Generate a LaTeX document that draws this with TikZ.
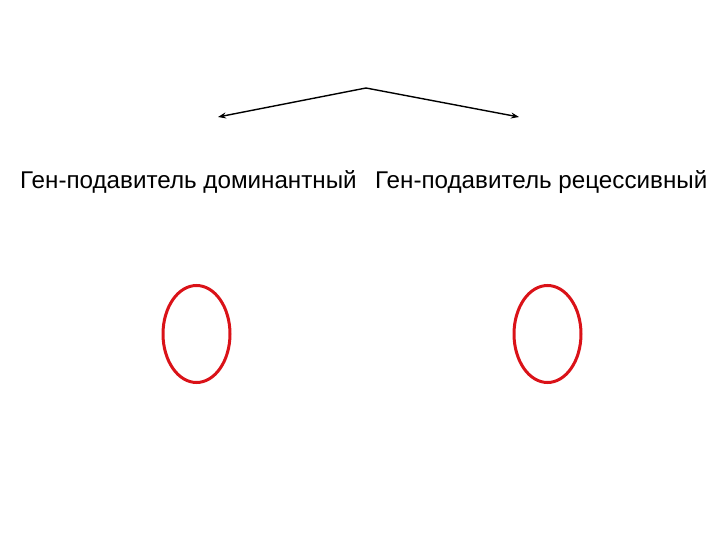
\documentclass[tikz,border=0pt]{standalone}
\usepackage{fontspec}
\setmainfont{Liberation Sans}
\usetikzlibrary{shapes.geometric,arrows.meta}
\definecolor{ovalred}{RGB}{218,18,24}
\tikzset{
  lbl/.style={anchor=base west,inner sep=0pt,font=\fontsize{24.2}{29}\selectfont},
  oval/.style={ellipse,draw=ovalred,line width=3pt,minimum width=67pt,minimum height=97pt,inner sep=0pt},
  arr/.style={-{Stealth[length=8pt,width=6pt]},line width=1.4pt}
}
\begin{document}
\begin{tikzpicture}[x=1pt,y=-1pt]
\useasboundingbox (0,0) rectangle (720,540);
\coordinate (apex) at (366,88);
\coordinate (lend) at (218,117);
\coordinate (rend) at (519,117);
\draw[arr] (apex) -- (lend);
\draw[arr] (apex) -- (rend);
\node[lbl] (t1) at (20,188.5) {Ген-подавитель доминантный};
\node[lbl] (t2) at (375,188.5) {Ген-подавитель рецессивный};
\node[oval] (o1) at (196.5,334) {};
\node[oval] (o2) at (547.5,334) {};
\end{tikzpicture}
\end{document}
